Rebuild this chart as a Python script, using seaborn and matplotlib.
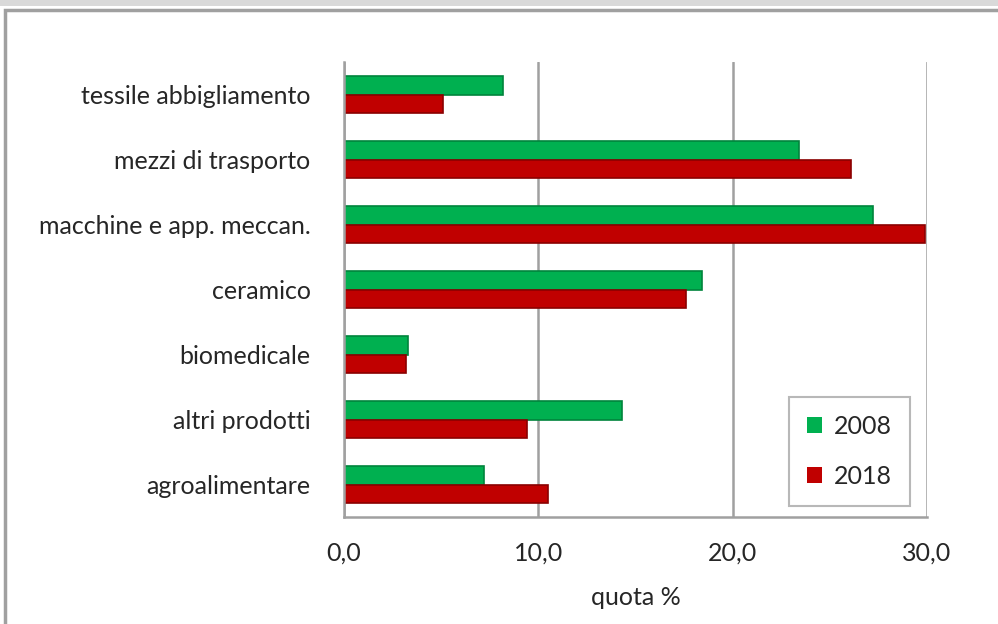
import matplotlib
matplotlib.use("Agg")
import matplotlib.pyplot as plt
import matplotlib.patches as mpatches
import numpy as np
import pandas as pd
import seaborn as sns

# dati (quota %)
categorie = ["tessile abbigliamento", "mezzi di trasporto", "macchine e app. meccan.",
             "ceramico", "biomedicale", "altri prodotti", "agroalimentare"]
anni = ["2008", "2018"]
quota_2008 = [8.2, 23.4, 27.2, 18.4, 3.3, 14.3, 7.2]
quota_2018 = [5.1, 26.1, 29.9, 17.6, 3.2, 9.4, 10.5]
colori = {"2008": "#00b050", "2018": "#c00000"}
bordi = {"2008": "#00843c", "2018": "#8a0000"}
xticks = [0, 10, 20, 30]

df = pd.DataFrame({
    "categoria": categorie * 2,
    "anno": [anni[0]] * len(categorie) + [anni[1]] * len(categorie),
    "quota": quota_2008 + quota_2018,
})

sns.set_style("white")
plt.rcParams["font.family"] = ["Lato", "DejaVu Sans"]

fig = plt.figure(figsize=(9.98, 6.24), dpi=100)
ax = fig.add_axes([344 / 998, 1 - 517 / 624, (927 - 344) / 998, (517 - 62) / 624])

sns.barplot(data=df, y="categoria", x="quota", hue="anno", order=categorie,
            hue_order=anni, palette=colori, orient="h", width=0.56,
            saturation=1, ax=ax, legend=False)

# bordo scuro per dare un po' di volume
for cont, anno in zip(ax.containers, anni):
    for bar in cont:
        bar.set_edgecolor(bordi[anno])
        bar.set_linewidth(1.2)

ax.set_xlim(0, 30)
ax.set_ylim(len(categorie) - 0.5, -0.5)
ax.set_xticks(xticks)
ax.set_xticklabels([f"{v:.1f}".replace(".", ",") for v in xticks])
ax.set_yticks(range(len(categorie)))
ax.set_yticklabels(categorie)
ax.set_yticks(np.arange(-0.5, len(categorie)), minor=True)
ax.tick_params(axis="y", which="major", length=0, pad=24, labelsize=18, colors="#262626")
ax.tick_params(axis="y", which="minor", length=8, width=1.5, color="#a0a0a0", direction="out")
ax.tick_params(axis="x", which="major", length=8, width=1.5, color="#a0a0a0",
               direction="out", pad=10, labelsize=18, labelcolor="#262626")
ax.xaxis.grid(True, color="#a0a0a0", linewidth=1.8)
ax.set_axisbelow(True)
for lato in ["top", "right"]:
    ax.spines[lato].set_visible(False)
for lato in ["left", "bottom"]:
    ax.spines[lato].set_color("#a0a0a0")
    ax.spines[lato].set_linewidth(1.8)

ax.set_ylabel("")
ax.set_xlabel("quota %", fontsize=18, color="#262626", labelpad=15)

# legenda
maniglie = [mpatches.Patch(facecolor=colori[a], edgecolor="none", label=a) for a in anni]
leg = ax.legend(handles=maniglie, loc="lower right", bbox_to_anchor=(0.97, 0.025),
                fontsize=18, frameon=True, fancybox=False, handlelength=0.6,
                handleheight=0.6, handletextpad=0.5, labelspacing=1.1,
                borderpad=0.7, borderaxespad=0)
leg.get_frame().set_edgecolor("#a6a6a6")
leg.get_frame().set_linewidth(1.5)
for t in leg.get_texts():
    t.set_color("#262626")

# cornice esterna
fig.patches.append(mpatches.Rectangle((0, 1 - 6 / 624), 1, 6 / 624, transform=fig.transFigure,
                                      facecolor="#d9d9d9", edgecolor="none", zorder=0))
fig.patches.append(mpatches.Rectangle((5 / 998, -0.01), 1.0, 1 - 10 / 624 + 0.01,
                                      transform=fig.transFigure, facecolor="none",
                                      edgecolor="#a0a0a0", linewidth=2.5, zorder=0))

fig.savefig("out.png", dpi=100)
